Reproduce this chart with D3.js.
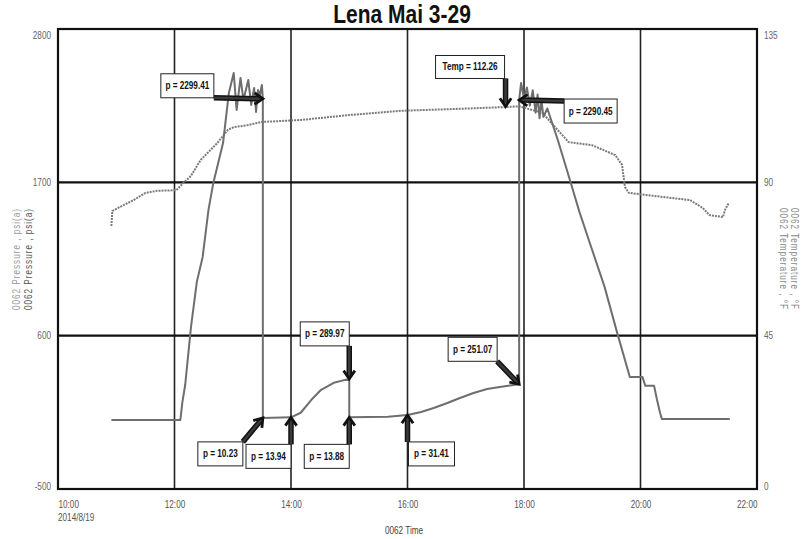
<!DOCTYPE html>
<html>
<head>
<meta charset="utf-8">
<script src="https://cdn.jsdelivr.net/npm/d3@7"></script>
<style>
  body { margin: 0; background: #fff; }
  text { font-family: "Liberation Sans", Arial, sans-serif; }
</style>
</head>
<body>
<div id="chart"></div>
<script>
// pressure, psi(a)
var pressTime = ["10:55","12:06","12:07","12:08","12:11","12:17","12:23","12:29","12:35","12:40","12:50","12:56",
  "13:01","13:04","13:08","13:11","13:16","13:19","13:22","13:24","13:26","13:28","13:30","13:31","13:31",
  "14:00","14:10","14:21","14:31","14:44","15:00","15:00","15:40","16:00","16:14","16:27","16:41","16:54",
  "17:08","17:22","17:35","17:55","17:55","17:57","18:00","18:03","18:06","18:09","18:12","18:14","18:16",
  "18:18","18:20","18:24","18:35","18:48","18:57","19:09","19:23","19:36","19:49","20:02","20:05","20:14",
  "20:17","20:20","20:22","21:32"];
var pressValue = [-5,-5,53,118,246,663,986,1165,1502,1696,1982,2341,
  2484,2219,2449,2291,2434,2255,2377,2205,2362,2327,2398,2299.41,10.23,
  13.94,47,140,212,262,289.97,13.88,18,31.41,52,81,117,153,
  189,217,232,251.07,2290.45,2413,2300,2380,2250,2360,2200,2330,2160,
  2290,2170,2230,2000,1700,1490,1240,950,620,304,304,240,240,
  140,50,2,2];

// temperature, F
var tempTime = ["10:55","10:56","11:04","11:18","11:30","11:42","12:02","12:08","12:17","12:27","12:44","12:55",
  "13:01","13:16","13:29","14:10","15:02","15:54","16:46","17:42","17:55","18:19","18:32","18:46","19:10",
  "19:34","19:41","19:44","19:48","20:23","20:51","21:04","21:11","21:25","21:27","21:31"];
var tempValue = [77.2,81.6,82.8,84.8,86.9,87.5,87.7,89.5,91.9,96.6,101.5,105.4,
  106.2,106.8,107.7,108.3,109.8,111.0,111.5,112.1,112.3,110.4,106.2,101.8,100.9,
  98.0,95.1,88.6,86.9,85.7,84.8,82.5,80.4,79.8,81.9,84.0];

// ticks
var xTicks = ["10:00","12:00","14:00","16:00","18:00","20:00","22:00"];
var pressTicks = [-500, 600, 1700, 2800];
var tempTicks = [0, 45, 90, 135];

// annotations: label, time, value, which axis
var noteLabel = ["p = 2299.41","Temp = 112.26","p = 2290.45","p = 289.97","p = 10.23","p = 13.94","p = 13.88","p = 31.41","p = 251.07"];
var noteTime  = ["13:31","17:41","17:55","15:00","13:31","14:00","15:00","16:00","17:55"];
var noteValue = [2299.41, 112.26, 2290.45, 289.97, 10.23, 13.94, 13.88, 31.41, 251.07];
var noteAxis  = ["p","t","p","p","p","p","p","p","p"];
// box placement relative to the point: dx, dy, w, h, arrow tail dx, dy
var noteLayout = [
  [-102, -25, 53, 24, -49, -1],
  [-70, -51, 69, 23, 0, -28],
  [45, -1, 53, 24, 45, 1],
  [-49, -57, 49, 24, 0, -33],
  [-65, 24, 45, 24, -20, 24],
  [-45, 27, 45, 24, 0, 27],
  [-45, 27, 45, 24, 0, 27],
  [1, 27, 46, 24, 0, 27],
  [-71, -47, 49, 24, -22, -23]
];

var W = 809, H = 539;
var margin = {left: 58, right: 52, top: 29, bottom: 50};
var NARROW = 0.82;   // no Arial Narrow here, squeeze Liberation Sans instead
var parse = d3.timeParse("%Y-%m-%d %H:%M");
var day = "2014-08-19 ";
function t(s) { return parse(day + s); }

function narrowText(g, x, y, rot, sx) {
  return g.append("text")
    .attr("transform", "translate(" + x + "," + y + ")" + (rot ? " rotate(" + rot + ")" : "") +
      " scale(" + (sx || NARROW) + ",1)");
}

var x = d3.scaleTime()
  .domain([t("10:00"), t("22:00")])
  .range([margin.left, W - margin.right]);
var yP = d3.scaleLinear().domain([-500, 2800]).range([H - margin.bottom, margin.top]);
var yT = d3.scaleLinear().domain([0, 135]).range([H - margin.bottom, margin.top]);

var svg = d3.select("#chart").append("svg")
  .attr("width", W).attr("height", H);

// grid
var grid = svg.append("g");
grid.selectAll(".vg").data(xTicks.slice(1, -1)).enter().append("line")
  .attr("x1", function(d) { return x(t(d)); }).attr("x2", function(d) { return x(t(d)); })
  .attr("y1", margin.top).attr("y2", H - margin.bottom)
  .attr("stroke", "#222").attr("stroke-width", 1.6);
grid.selectAll(".hg").data(pressTicks.slice(1, -1)).enter().append("line")
  .attr("x1", margin.left).attr("x2", W - margin.right)
  .attr("y1", function(d) { return yP(d); }).attr("y2", function(d) { return yP(d); })
  .attr("stroke", "#111").attr("stroke-width", 2.4);
svg.append("rect")
  .attr("x", margin.left).attr("y", margin.top)
  .attr("width", W - margin.left - margin.right)
  .attr("height", H - margin.top - margin.bottom)
  .attr("fill", "none").attr("stroke", "#111").attr("stroke-width", 2.2);

// axes
var plain = function(d) { return String(d); };
var axL = svg.append("g").attr("transform", "translate(" + margin.left + ",0)")
  .call(d3.axisLeft(yP).tickValues(pressTicks).tickSize(0).tickPadding(7).tickFormat(plain));
var axR = svg.append("g").attr("transform", "translate(" + (W - margin.right) + ",0)")
  .call(d3.axisRight(yT).tickValues(tempTicks).tickSize(0).tickPadding(7).tickFormat(plain));
var axB = svg.append("g").attr("transform", "translate(0," + (H - margin.bottom) + ")")
  .call(d3.axisBottom(x).tickValues(xTicks.map(t)).tickSize(0).tickPadding(12)
    .tickFormat(d3.timeFormat("%H:%M")));
[axL, axR, axB].forEach(function(a) {
  a.select(".domain").remove();
  a.selectAll("text").style("font-size", "10px").attr("fill", "#666")
    .attr("transform", "scale(" + NARROW + ",1)");
});
axL.selectAll(".tick text").attr("x", -7 / NARROW);
axR.selectAll(".tick text").attr("x", 7 / NARROW);
axB.selectAll("text").attr("fill", "#555");
axL.selectAll(".tick text").attr("dy", function(d) { return d == 2800 ? "0.95em" : d == -500 ? "0" : "0.32em"; });
axR.selectAll(".tick text").attr("dy", function(d) { return d == 135 ? "0.95em" : d == 0 ? "0" : "0.32em"; });
axB.selectAll(".tick text").attr("text-anchor", function(d, i) {
  return i == 0 ? "start" : i == xTicks.length - 1 ? "end" : "middle";
});
narrowText(svg, margin.left, 521).style("font-size", "10px").attr("fill", "#555").text("2014/8/19");

// titles
narrowText(svg, 402, 23, 0, 0.84).attr("text-anchor", "middle")
  .style("font-size", "25px").style("font-weight", "bold").attr("fill", "#111")
  .text("Lena Mai 3-29");
narrowText(svg, 404, 534).attr("text-anchor", "middle")
  .style("font-size", "10px").attr("fill", "#444").text("0062 Time");
var cy = (margin.top + H - margin.bottom) / 2;
[["#999", 20], ["#555", 32]].forEach(function(s) {
  narrowText(svg, s[1], cy, -90).attr("text-anchor", "middle")
    .style("font-size", "10px").style("letter-spacing", "1.2px")
    .attr("fill", s[0]).text("0062 Pressure , psi(a)");
});
[["#888", 791], ["#888", 780]].forEach(function(s) {
  narrowText(svg, s[1], cy, 90).attr("text-anchor", "middle")
    .style("font-size", "10px").style("letter-spacing", "1.2px")
    .attr("fill", s[0]).text("0062 Temperature , \u00b0F");
});

// series
var lineP = d3.line()
  .x(function(d, i) { return x(t(pressTime[i])); })
  .y(function(d) { return yP(d); });
var lineT = d3.line()
  .x(function(d, i) { return x(t(tempTime[i])); })
  .y(function(d) { return yT(d); });

svg.append("path").datum(tempValue)
  .attr("d", lineT).attr("fill", "none")
  .attr("stroke", "#7a7a7a").attr("stroke-width", 2).attr("stroke-dasharray", "2,1");
svg.append("path").datum(pressValue)
  .attr("d", lineP).attr("fill", "none")
  .attr("stroke", "#6e6e6e").attr("stroke-width", 2).attr("stroke-linejoin", "round");

// annotations
function arrow(g, x1, y1, x2, y2) {
  var a = Math.atan2(y2 - y1, x2 - x1);
  var len = Math.sqrt((x2 - x1) * (x2 - x1) + (y2 - y1) * (y2 - y1));
  var sx = x1 + Math.cos(a) * (len - 3), sy = y1 + Math.sin(a) * (len - 3);
  g.append("line").attr("x1", x1).attr("y1", y1).attr("x2", sx).attr("y2", sy)
    .attr("stroke", "#111").attr("stroke-width", 5.5);
  g.append("line").attr("x1", x1).attr("y1", y1).attr("x2", sx).attr("y2", sy)
    .attr("stroke", "#3a3a3a").attr("stroke-width", 2.5);
  var h = 10, s = 0.6;
  var pts = [
    [x2 - h * Math.cos(a - s), y2 - h * Math.sin(a - s)],
    [x2, y2],
    [x2 - h * Math.cos(a + s), y2 - h * Math.sin(a + s)]
  ];
  g.append("polyline").attr("points", pts.map(function(p) { return p.join(","); }).join(" "))
    .attr("fill", "none").attr("stroke", "#111").attr("stroke-width", 2.8)
    .attr("stroke-linejoin", "miter");
}

var notes = svg.append("g");
noteLabel.forEach(function(lab, i) {
  var px = x(t(noteTime[i]));
  var py = noteAxis[i] == "p" ? yP(noteValue[i]) : yT(noteValue[i]);
  var L = noteLayout[i];
  var g = notes.append("g");
  arrow(g, px + L[4], py + L[5], px, py);
  g.append("rect").attr("x", px + L[0]).attr("y", py + L[1])
    .attr("width", L[2]).attr("height", L[3])
    .attr("fill", "#fff").attr("stroke", "#222").attr("stroke-width", 1);
  narrowText(g, px + L[0] + L[2] / 2, py + L[1] + L[3] / 2 + 3.5).attr("text-anchor", "middle")
    .style("font-size", "10px").style("font-weight", "bold")
    .attr("fill", "#111").text(lab);
});
</script>
</body>
</html>
